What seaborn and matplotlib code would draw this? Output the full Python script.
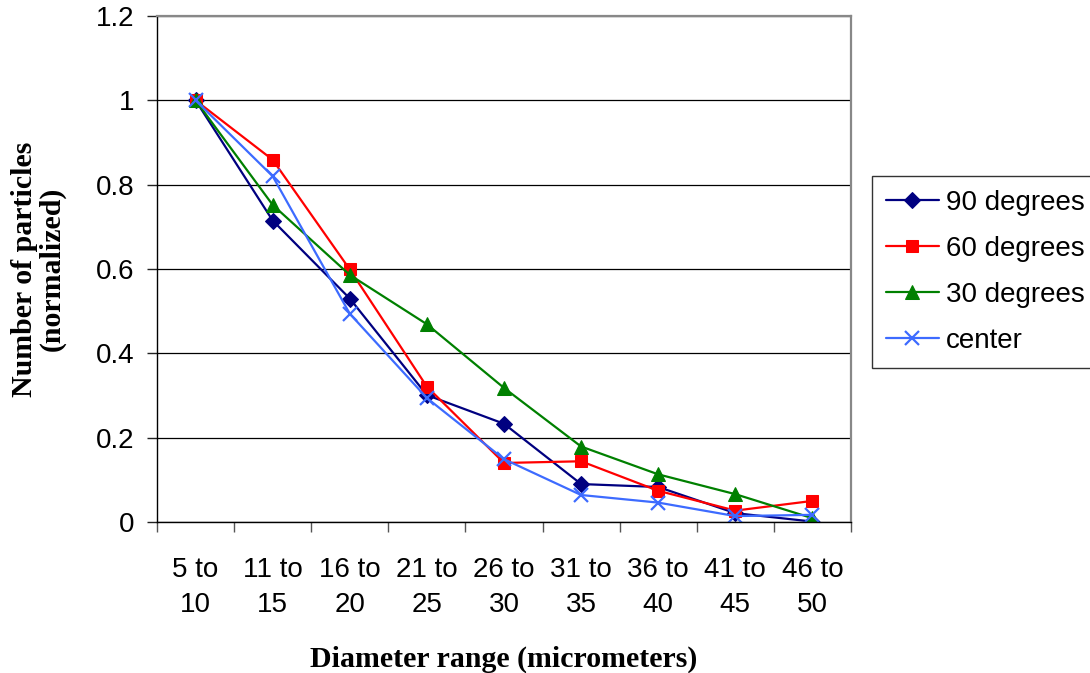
import matplotlib
matplotlib.use("Agg")
import matplotlib.pyplot as plt
import seaborn as sns
import pandas as pd
import numpy as np

categories = ["5 to\n10", "11 to\n15", "16 to\n20", "21 to\n25", "26 to\n30",
              "31 to\n35", "36 to\n40", "41 to\n45", "46 to\n50"]
deg90 = [1.0, 0.715, 0.530, 0.301, 0.233, 0.090, 0.083, 0.021, 0.001]
deg60 = [1.0, 0.859, 0.599, 0.321, 0.140, 0.144, 0.074, 0.027, 0.050]
deg30 = [1.0, 0.752, 0.586, 0.469, 0.318, 0.179, 0.113, 0.066, 0.009]
center = [1.0, 0.820, 0.494, 0.294, 0.149, 0.064, 0.046, 0.014, 0.017]
series_names = ["90 degrees", "60 degrees", "30 degrees", "center"]
y_ticks = [0, 0.2, 0.4, 0.6, 0.8, 1.0, 1.2]
y_tick_labels = ["0", "0.2", "0.4", "0.6", "0.8", "1", "1.2"]

sns.set_theme(style="white")
plt.rcParams['font.family'] = ['Liberation Sans', 'DejaVu Sans']
plt.rcParams['text.color'] = '#000000'
plt.rcParams['axes.labelcolor'] = '#000000'
plt.rcParams['xtick.color'] = '#000000'
plt.rcParams['ytick.color'] = '#000000'

fig = plt.figure(figsize=(10.9, 6.73), dpi=100)
ax = fig.add_axes([157/1090, 1 - 522/673, (851-157)/1090, (522-16)/673])

idx = np.arange(len(categories))
styles = [
    dict(color="#000080", marker="D", markersize=8),
    dict(color="#ff0000", marker="s", markersize=8.5),
    dict(color="#008000", marker="^", markersize=10),
    dict(color="#3d6bff", marker="x", markersize=9.5, markeredgewidth=1.6),
]
for name, vals, st in zip(series_names, [deg90, deg60, deg30, center], styles):
    df = pd.DataFrame({"x": idx, "y": vals})
    sns.lineplot(data=df, x="x", y="y", ax=ax, label=name, linewidth=1.6,
                 markeredgecolor=st["color"], **st)

ax.set_xlim(-0.5, len(categories) - 0.5)
ax.set_ylim(0, 1.2)
ax.set_yticks(y_ticks)
ax.set_yticklabels(y_tick_labels)
ax.set_xticks(idx)
ax.set_xticklabels(categories, linespacing=1.45)
ax.set_xticks(np.arange(-0.5, len(categories)), minor=True)
ax.tick_params(axis="x", which="major", length=0, pad=25, labelsize=20, labelcolor="#000000")
ax.tick_params(axis="x", which="minor", length=7, width=1, color="#555555", direction="out", bottom=True)
ax.tick_params(axis="y", which="major", length=7, width=1, color="#222222", direction="out", left=True, pad=9, labelsize=20, labelcolor="#000000")

ax.yaxis.grid(True, color="#000000", linewidth=0.9)
ax.xaxis.grid(False)
ax.set_axisbelow(True)

for s in ["left", "bottom"]:
    ax.spines[s].set_color("#000000")
    ax.spines[s].set_linewidth(1.0)
for s in ["top", "right"]:
    ax.spines[s].set_color("#888888")
    ax.spines[s].set_linewidth(1.6)

ax.set_xlabel("Diameter range (micrometers)", family=["Liberation Serif"],
              fontweight="bold", fontsize=21.5, labelpad=20, color="#000000")
ax.set_ylabel("Number of particles\n(normalized)", family=["Liberation Serif"],
              fontweight="bold", fontsize=21.5, labelpad=22, linespacing=1.0, color="#000000")

leg = ax.legend(loc="upper left", bbox_to_anchor=(872/1090, 1 - 176/673),
                bbox_transform=fig.transFigure, borderaxespad=0,
                fontsize=20, frameon=True, fancybox=False, edgecolor="#000000",
                handlelength=1.9, handletextpad=0.25, labelspacing=0.72, borderpad=0.5)
leg.get_frame().set_linewidth(1.0)
for t in leg.get_texts():
    t.set_color("#000000")

fig.savefig("out.png", dpi=100)
